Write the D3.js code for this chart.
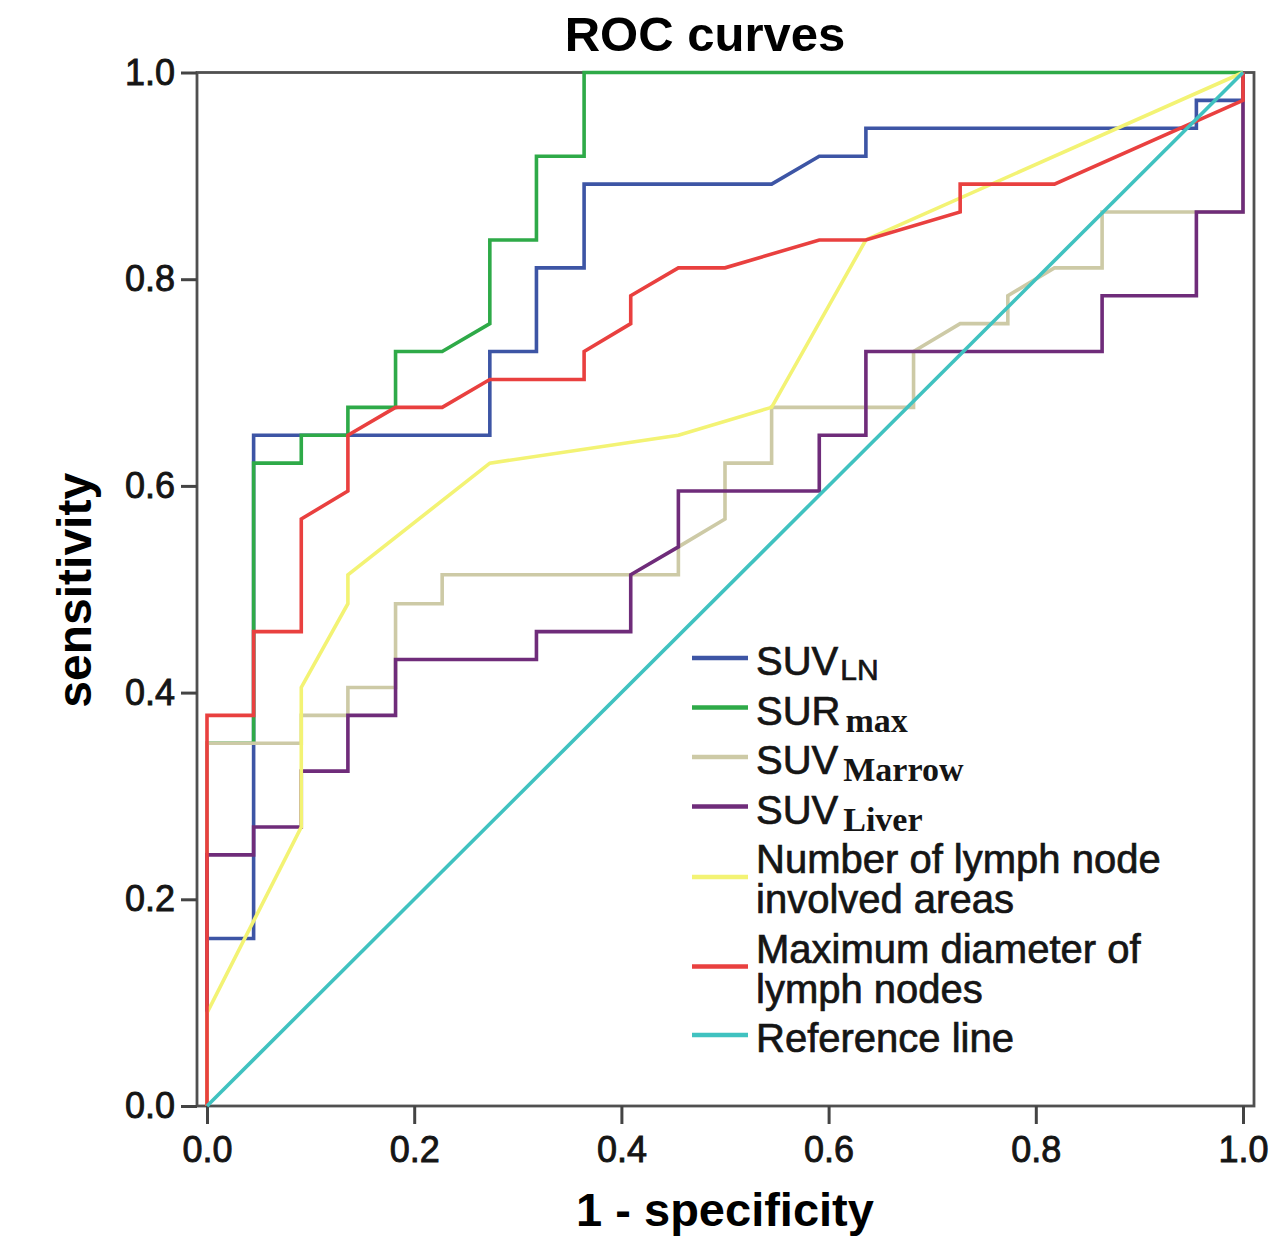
<!DOCTYPE html>
<html lang="en">
<head>
    <meta charset="UTF-8">
    <title>ROC curves</title>
    <script src="https://cdn.jsdelivr.net/npm/d3@7/dist/d3.min.js"></script>
    <style>
        body { margin: 0; background: #fff; }
        svg { display: block; }
    </style>
</head>
<body>
    <script>
        // points of each curve: [1 - specificity, sensitivity]
        const suvLN = [[0, 0], [0, 0.162], [0.045, 0.162], [0.045, 0.649], [0.273, 0.649], [0.273, 0.730],
            [0.318, 0.730], [0.318, 0.811], [0.364, 0.811], [0.364, 0.892], [0.545, 0.892], [0.591, 0.919],
            [0.636, 0.919], [0.636, 0.946], [0.955, 0.946], [0.955, 0.973], [1, 0.973], [1, 1]];
        const surMax = [[0, 0], [0, 0.351], [0.045, 0.351], [0.045, 0.622], [0.091, 0.622], [0.091, 0.649],
            [0.136, 0.649], [0.136, 0.676], [0.182, 0.676], [0.182, 0.730], [0.227, 0.730], [0.273, 0.757],
            [0.273, 0.838], [0.318, 0.838], [0.318, 0.919], [0.364, 0.919], [0.364, 1], [1, 1]];
        const suvMarrow = [[0, 0], [0, 0.351], [0.091, 0.351], [0.091, 0.378], [0.136, 0.378], [0.136, 0.405],
            [0.182, 0.405], [0.182, 0.486], [0.227, 0.486], [0.227, 0.514], [0.455, 0.514], [0.455, 0.541],
            [0.5, 0.568], [0.5, 0.622], [0.545, 0.622], [0.545, 0.676], [0.682, 0.676], [0.682, 0.730],
            [0.727, 0.757], [0.773, 0.757], [0.773, 0.784], [0.818, 0.811], [0.864, 0.811], [0.864, 0.865],
            [1, 0.865], [1, 1]];
        const suvLiver = [[0, 0], [0, 0.243], [0.045, 0.243], [0.045, 0.270], [0.091, 0.270], [0.091, 0.324],
            [0.136, 0.324], [0.136, 0.378], [0.182, 0.378], [0.182, 0.432], [0.318, 0.432], [0.318, 0.459],
            [0.409, 0.459], [0.409, 0.514], [0.455, 0.541], [0.455, 0.595], [0.591, 0.595], [0.591, 0.649],
            [0.636, 0.649], [0.636, 0.730], [0.864, 0.730], [0.864, 0.784], [0.955, 0.784], [0.955, 0.865],
            [1, 0.865], [1, 1]];
        const lymphAreas = [[0, 0], [0, 0.09], [0.091, 0.270], [0.091, 0.405], [0.136, 0.486], [0.136, 0.514],
            [0.273, 0.622], [0.455, 0.649], [0.545, 0.676], [0.636, 0.838], [1, 1]];
        const maxDiameter = [[0, 0], [0, 0.378], [0.045, 0.378], [0.045, 0.459], [0.091, 0.459], [0.091, 0.568],
            [0.136, 0.595], [0.136, 0.649], [0.182, 0.676], [0.227, 0.676], [0.273, 0.703], [0.364, 0.703],
            [0.364, 0.730], [0.409, 0.757], [0.409, 0.784], [0.455, 0.811], [0.5, 0.811], [0.591, 0.838],
            [0.636, 0.838], [0.727, 0.865], [0.727, 0.892], [0.818, 0.892], [1, 0.973], [1, 1]];
        const referenceLine = [[0, 0], [1, 1]];

        const seriesNames = ['SUV_LN', 'SUR_max', 'SUV_Marrow', 'SUV_Liver', 'lymph areas', 'max diameter', 'reference'];
        const seriesData = [suvLN, surMax, suvMarrow, suvLiver, lymphAreas, maxDiameter, referenceLine];
        const seriesColors = ['#3d55a5', '#2eaa48', '#cdcaa6', '#6f2c7a', '#f3f374', '#e9403f', '#40c2c0'];

        // legend: main text, subscript, subscript font ('sans' / 'serif'), second line
        const legendMain = ['SUV', 'SUR', 'SUV', 'SUV', 'Number of lymph node', 'Maximum diameter of', 'Reference line'];
        const legendSub = ['LN', 'max', 'Marrow', 'Liver', '', '', ''];
        const legendSubFont = ['sans', 'serif', 'serif', 'serif', '', '', ''];
        const legendLine2 = ['', '', '', '', 'involved areas', 'lymph nodes', ''];

        const tickValues = [0, 0.2, 0.4, 0.6, 0.8, 1.0];

        const width = 1281,
            height = 1238,
            frame = { left: 197, right: 1254, top: 72.5, bottom: 1106 },
            pad = 10; // horizontal gap between frame and x = 0 / x = 1

        const sans = '"Liberation Sans", Arial, sans-serif';
        const serif = '"Liberation Serif", "Times New Roman", serif';

        let svg = d3.select('body').append('svg').attr('width', width).attr('height', height);

        let x = d3.scaleLinear().domain([0, 1]).range([frame.left + pad, frame.right - pad - 1]);
        let y = d3.scaleLinear().domain([0, 1]).range([frame.bottom, frame.top]);

        // frame
        svg.append('rect')
            .attr('x', frame.left)
            .attr('y', frame.top)
            .attr('width', frame.right - frame.left)
            .attr('height', frame.bottom - frame.top)
            .attr('fill', 'none')
            .attr('stroke', '#505050')
            .attr('stroke-width', 2.8);

        // axes
        let yAxis = svg.append('g')
            .attr('transform', `translate(${frame.left},0)`)
            .call(d3.axisLeft(y).tickValues(tickValues).tickFormat(d3.format('.1f'))
                .tickSize(16).tickSizeOuter(0).tickPadding(6));
        let xAxis = svg.append('g')
            .attr('transform', `translate(0,${frame.bottom})`)
            .call(d3.axisBottom(x).tickValues(tickValues).tickFormat(d3.format('.1f'))
                .tickSize(18).tickSizeOuter(0).tickPadding(12));
        [xAxis, yAxis].forEach(a => {
            a.select('.domain').remove();
            a.selectAll('line').attr('stroke', '#444').attr('stroke-width', 3);
            a.selectAll('text')
                .attr('fill', '#151515')
                .attr('stroke', '#151515')
                .attr('stroke-width', 0.9)
                .style('font-family', sans)
                .style('font-size', '36px');
        });

        // curves
        let line = d3.line().x(d => x(d[0])).y(d => y(d[1]));
        svg.append('g')
            .selectAll('path')
            .data(seriesData)
            .join('path')
            .attr('d', line)
            .attr('fill', 'none')
            .attr('stroke', (d, i) => seriesColors[i])
            .attr('stroke-width', 3.6)
            .attr('stroke-linejoin', 'miter');

        // titles
        svg.append('text')
            .attr('x', 705)
            .attr('y', 51)
            .attr('text-anchor', 'middle')
            .style('font-family', sans)
            .style('font-weight', 'bold')
            .style('font-size', '49px')
            .text('ROC curves');
        svg.append('text')
            .attr('x', (x(0) + x(1)) / 2)
            .attr('y', 1226)
            .attr('text-anchor', 'middle')
            .style('font-family', sans)
            .style('font-weight', 'bold')
            .style('font-size', '47px')
            .text('1 - specificity');
        svg.append('text')
            .attr('transform', `translate(91,${y(0.5) + 1}) rotate(-90)`)
            .attr('text-anchor', 'middle')
            .style('font-family', sans)
            .style('font-weight', 'bold')
            .style('font-size', '48px')
            .text('sensitivity');

        // legend
        let legend = svg.append('g');
        let rowY = 675;
        legendMain.forEach((name, i) => {
            let twoLines = legendLine2[i] !== '';
            let lineY = twoLines ? rowY + 4 : rowY - 17;
            legend.append('line')
                .attr('x1', 692).attr('x2', 748)
                .attr('y1', lineY).attr('y2', lineY)
                .attr('stroke', seriesColors[i])
                .attr('stroke-width', 4.5);
            let t = legend.append('text')
                .attr('x', 756)
                .attr('y', rowY)
                .attr('fill', '#151515')
                .attr('stroke', '#151515')
                .attr('stroke-width', 0.7)
                .style('font-family', sans)
                .style('font-size', '40px');
            t.append('tspan').text(name);
            if (legendSub[i]) {
                let isSerif = legendSubFont[i] === 'serif';
                t.append('tspan')
                    .attr('dx', isSerif ? 5 : 2)
                    .attr('dy', isSerif ? 7 : 5)
                    .attr('stroke-width', isSerif ? 0 : 0.7)
                    .style('font-family', isSerif ? serif : sans)
                    .style('font-weight', isSerif ? 'bold' : 'normal')
                    .style('font-size', isSerif ? '34px' : '30px')
                    .text(legendSub[i]);
            }
            if (twoLines) {
                legend.append('text')
                    .attr('x', 756)
                    .attr('y', rowY + 40)
                    .attr('fill', '#151515')
                    .attr('stroke', '#151515')
                    .attr('stroke-width', 0.7)
                    .style('font-family', sans)
                    .style('font-size', '40px')
                    .text(legendLine2[i]);
                rowY += 40;
            }
            rowY += 49.5;
        });
    </script>
</body>
</html>
